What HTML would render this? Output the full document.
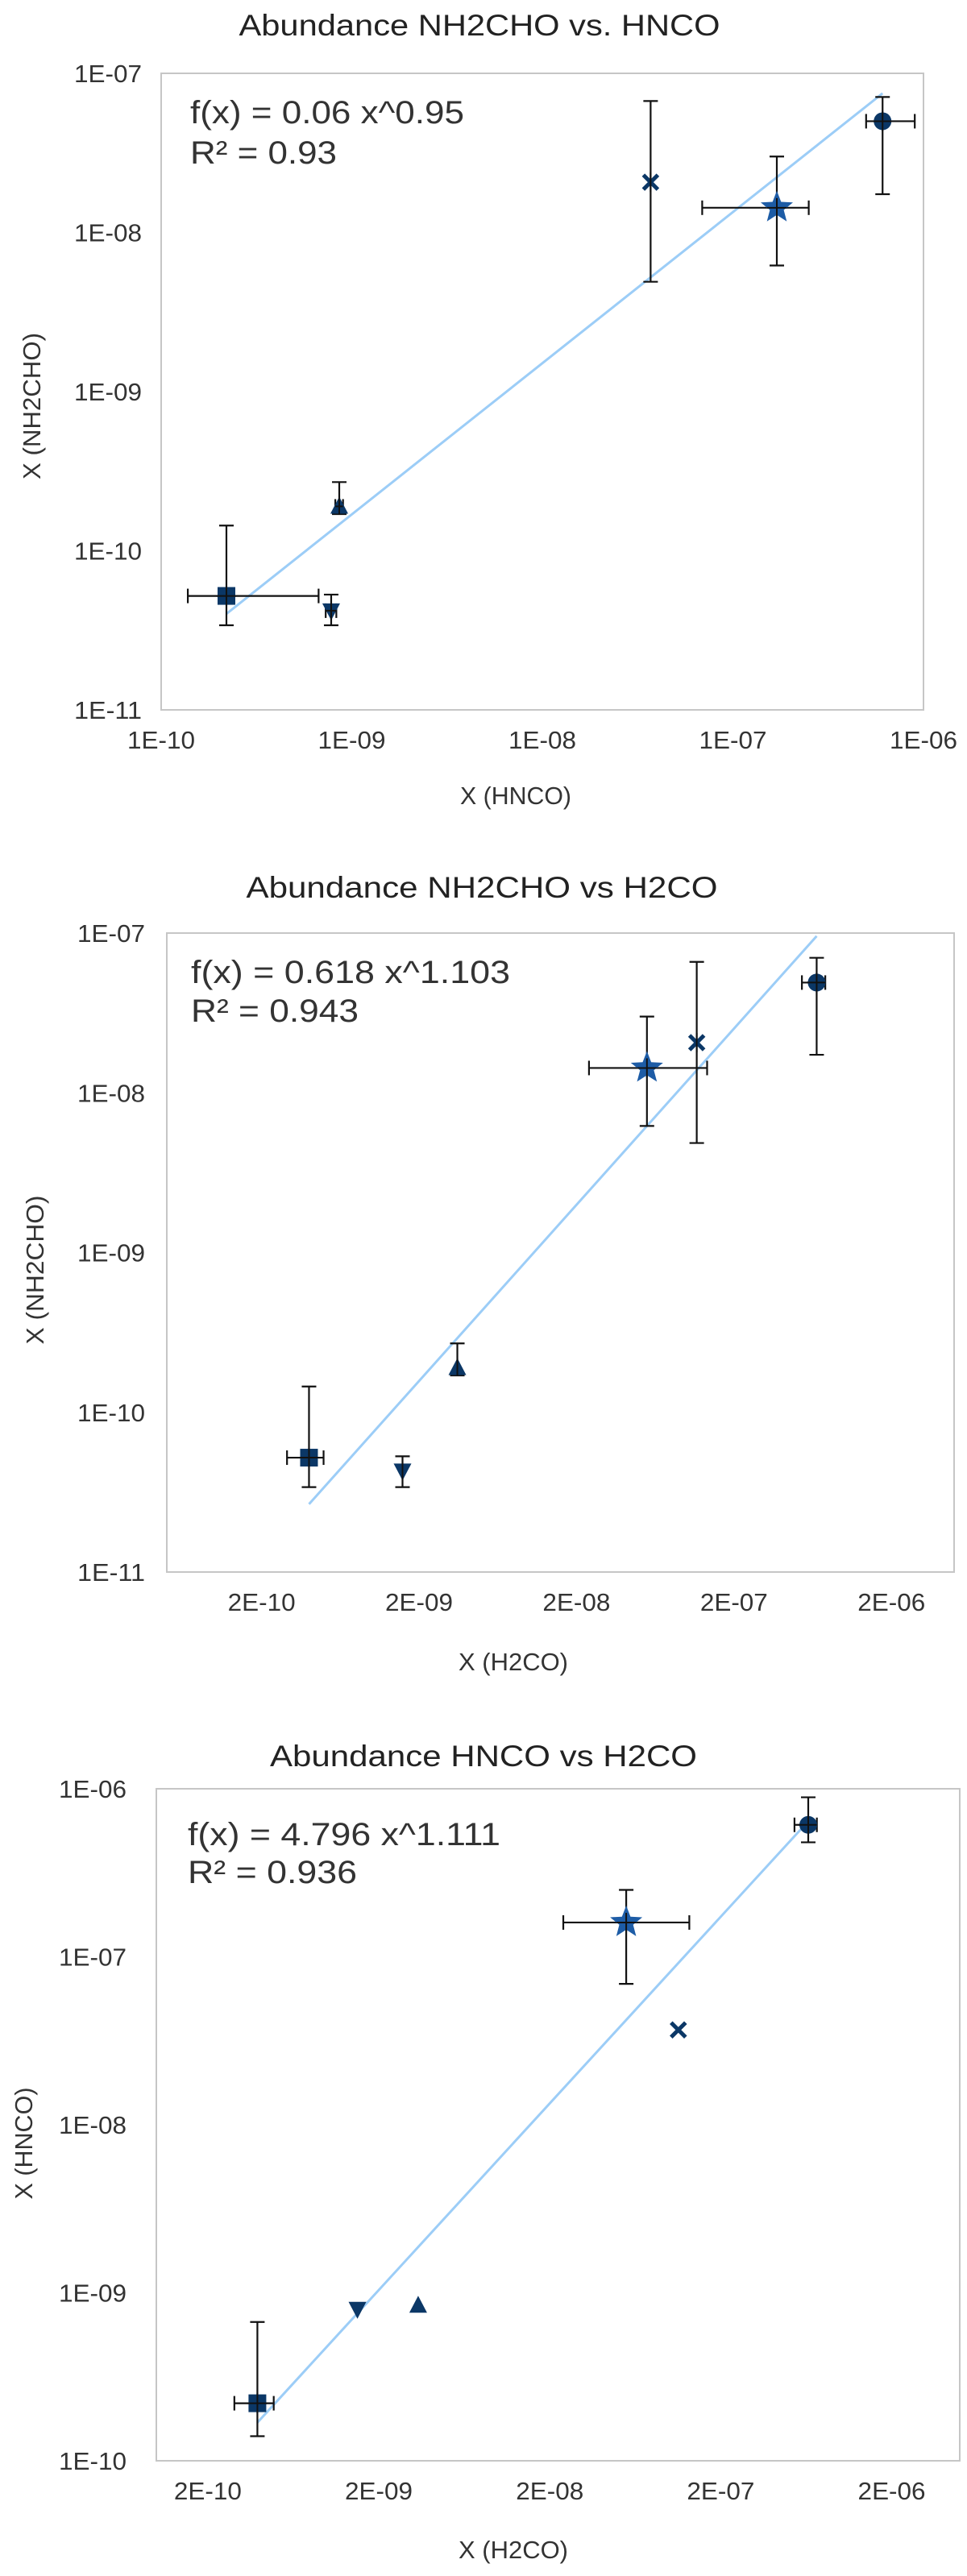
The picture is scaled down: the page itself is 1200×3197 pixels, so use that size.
<!DOCTYPE html>
<html><head><meta charset="utf-8"><style>
html,body{margin:0;padding:0;background:#fff;}
svg{display:block;font-family:"Liberation Sans",sans-serif;}
</style></head><body>
<svg id="root" width="1200" height="3197" viewBox="0 0 1200 3197" xmlns="http://www.w3.org/2000/svg">
<rect width="1200" height="3197" fill="#fff"/>
<g id="c1">
  <text x="595" y="44" font-size="37" text-anchor="middle" textLength="597" lengthAdjust="spacingAndGlyphs" fill="#222">Abundance NH2CHO vs. HNCO</text>
  <text x="640" y="998" font-size="31" text-anchor="middle" textLength="138" lengthAdjust="spacingAndGlyphs" fill="#333">X (HNCO)</text>
  <text transform="translate(50,504) rotate(-90)" font-size="31" text-anchor="middle" textLength="182" lengthAdjust="spacingAndGlyphs" fill="#333">X (NH2CHO)</text>
  <text x="236" y="153" font-size="40" textLength="340" lengthAdjust="spacingAndGlyphs" fill="#333">f(x) = 0.06 x^0.95</text>
  <text x="236" y="203" font-size="40" textLength="182" lengthAdjust="spacingAndGlyphs" fill="#333">R² = 0.93</text>
</g>
<g id="c2">
  <text x="598" y="1114" font-size="37" text-anchor="middle" textLength="585" lengthAdjust="spacingAndGlyphs" fill="#222">Abundance NH2CHO vs H2CO</text>
  <text x="637" y="2073" font-size="31" text-anchor="middle" textLength="136" lengthAdjust="spacingAndGlyphs" fill="#333">X (H2CO)</text>
  <text transform="translate(54,1576) rotate(-90)" font-size="31" text-anchor="middle" textLength="185" lengthAdjust="spacingAndGlyphs" fill="#333">X (NH2CHO)</text>
  <text x="237" y="1220" font-size="40" textLength="396" lengthAdjust="spacingAndGlyphs" fill="#333">f(x) = 0.618 x^1.103</text>
  <text x="237" y="1268" font-size="40" textLength="208" lengthAdjust="spacingAndGlyphs" fill="#333">R² = 0.943</text>
</g>
<g id="c3">
  <text x="600" y="2192" font-size="37" text-anchor="middle" textLength="530" lengthAdjust="spacingAndGlyphs" fill="#222">Abundance HNCO vs H2CO</text>
  <text x="637" y="3175" font-size="31" text-anchor="middle" textLength="136" lengthAdjust="spacingAndGlyphs" fill="#333">X (H2CO)</text>
  <text transform="translate(40,2660) rotate(-90)" font-size="31" text-anchor="middle" textLength="139" lengthAdjust="spacingAndGlyphs" fill="#333">X (HNCO)</text>
  <text x="233" y="2290" font-size="40" textLength="388" lengthAdjust="spacingAndGlyphs" fill="#333">f(x) = 4.796 x^1.111</text>
  <text x="233" y="2337" font-size="40" textLength="210" lengthAdjust="spacingAndGlyphs" fill="#333">R² = 0.936</text>
</g>
</svg>
<script>
// ---- data: marker order per source ----
const markers = ['square','down','up','x','star','circle'];

// Chart 1: NH2CHO vs HNCO
const c1X    = [2.2e-10, 7.8e-10, 8.6e-10, 3.7e-8, 1.7e-7, 6.1e-7];
const c1Y    = [5.2e-11, 4.2e-11, 1.9e-10, 2.07e-8, 1.43e-8, 5.0e-8];
const c1XLo  = [1.38e-10, 7.3e-10, 8.2e-10, null, 6.9e-8, 5.0e-7];
const c1XHi  = [6.7e-10, 8.3e-10, 9.0e-10, null, 2.5e-7, 9.0e-7];
const c1YLo  = [3.4e-11, 3.4e-11, 1.7e-10, 4.9e-9, 6.2e-9, 1.74e-8];
const c1YHi  = [1.44e-10, 5.3e-11, 2.7e-10, 6.7e-8, 3.0e-8, 7.1e-8];
const c1Fit  = [0.06, 0.95];
const c1XTicks = [1e-10, 1e-9, 1e-8, 1e-7, 1e-6];
const c1XTickLabels = ['1E-10','1E-09','1E-08','1E-07','1E-06'];
const c1YTicks = [1e-11, 1e-10, 1e-9, 1e-8, 1e-7];
const c1YTickLabels = ['1E-11','1E-10','1E-09','1E-08','1E-07'];
const c1XRange = [1e-10, 1e-6];
const c1YRange = [1e-11, 1e-7];

// Chart 2: NH2CHO vs H2CO
const c2X    = [4.0e-10, 1.57e-9, 3.5e-9, 1.16e-7, 5.6e-8, 6.7e-7];
const c2Y    = [5.2e-11, 4.3e-11, 1.9e-10, 2.06e-8, 1.43e-8, 4.9e-8];
const c2XLo  = [2.9e-10, null, null, null, 2.4e-8, 5.4e-7];
const c2XHi  = [4.95e-10, null, null, null, 1.35e-7, 7.6e-7];
const c2YLo  = [3.4e-11, 3.4e-11, 1.7e-10, 4.85e-9, 6.2e-9, 1.73e-8];
const c2YHi  = [1.45e-10, 5.3e-11, 2.7e-10, 6.6e-8, 3.0e-8, 7.0e-8];
const c2Fit  = [0.618, 1.103];
const c2XTicks = [2e-10, 2e-9, 2e-8, 2e-7, 2e-6];
const c2XTickLabels = ['2E-10','2E-09','2E-08','2E-07','2E-06'];
const c2YTicks = [1e-11, 1e-10, 1e-9, 1e-8, 1e-7];
const c2YTickLabels = ['1E-11','1E-10','1E-09','1E-08','1E-07'];
const c2XRange = [5e-11, 5e-6];
const c2YRange = [1e-11, 1e-7];

// Chart 3: HNCO vs H2CO
const c3X    = [3.9e-10, 1.5e-9, 3.4e-9, 1.13e-7, 5.6e-8, 6.5e-7];
const c3Y    = [2.2e-10, 8.0e-10, 8.4e-10, 3.67e-8, 1.6e-7, 6.1e-7];
const c3XLo  = [2.86e-10, null, null, null, 2.4e-8, 5.4e-7];
const c3XHi  = [4.86e-10, null, null, null, 1.31e-7, 7.3e-7];
const c3YLo  = [1.4e-10, null, null, null, 6.9e-8, 4.8e-7];
const c3YHi  = [6.7e-10, null, null, null, 2.5e-7, 8.9e-7];
const c3Fit  = [4.796, 1.111];
const c3XTicks = [2e-10, 2e-9, 2e-8, 2e-7, 2e-6];
const c3XTickLabels = ['2E-10','2E-09','2E-08','2E-07','2E-06'];
const c3YTicks = [1e-10, 1e-9, 1e-8, 1e-7, 1e-6];
const c3YTickLabels = ['1E-10','1E-09','1E-08','1E-07','1E-06'];
const c3XRange = [1e-10, 5e-6];
const c3YRange = [1e-10, 1e-6];

const NS = 'http://www.w3.org/2000/svg';
function mk(tag, attrs, parent){
  const e = document.createElementNS(NS, tag);
  for (const k in attrs) e.setAttribute(k, attrs[k]);
  parent.appendChild(e);
  return e;
}
const L10 = Math.log10;

function drawChart(g, box, xr, yr, X, Y, XLo, XHi, YLo, YHi, fit, xt, xtl, yt, ytl, yLabRight){
  const sx = v => box.l + (L10(v) - L10(xr[0])) / (L10(xr[1]) - L10(xr[0])) * (box.r - box.l);
  const sy = v => box.b - (L10(v) - L10(yr[0])) / (L10(yr[1]) - L10(yr[0])) * (box.b - box.t);
  const frame = mk('rect', {x: box.l, y: box.t, width: box.r - box.l, height: box.b - box.t, fill: 'none', stroke: '#c6c6c6', 'stroke-width': 2}, g);
  
  
  xt.forEach((v, i) => {
    const t = mk('text', {x: sx(v), y: box.b + 48, 'font-size': 31, 'text-anchor': 'middle', fill: '#333', textLength: 84, lengthAdjust: 'spacingAndGlyphs'}, g);
    t.textContent = xtl[i];
    
    
  });
  yt.forEach((v, i) => {
    const t = mk('text', {x: yLabRight, y: sy(v) + 11, 'font-size': 31, 'text-anchor': 'end', fill: '#333', textLength: 84, lengthAdjust: 'spacingAndGlyphs'}, g);
    t.textContent = ytl[i];
    
    
  });
  // trendline
  const xmin = Math.min(...X), xmax = Math.max(...X);
  const f = v => fit[0] * Math.pow(v, fit[1]);
  const tl = mk('line', {x1: sx(xmin), y1: sy(f(xmin)), x2: sx(xmax), y2: sy(f(xmax)), stroke: '#9ccdf7', 'stroke-width': 3}, g);
  
  
  X.forEach((xv, i) => {
    const cx = sx(xv), cy = sy(Y[i]);
    const eg = mk('g', {stroke: '#111', 'stroke-width': 2.2, fill: 'none'}, g);
    
    
    if (YLo[i] != null) {
      const y1 = sy(YHi[i]), y2 = sy(YLo[i]);
      mk('line', {x1: cx, y1: y1, x2: cx, y2: y2}, eg);
      mk('line', {x1: cx - 9, y1: y1, x2: cx + 9, y2: y1}, eg);
      mk('line', {x1: cx - 9, y1: y2, x2: cx + 9, y2: y2}, eg);
    }
    if (XLo[i] != null) {
      const x1 = sx(XLo[i]), x2 = sx(XHi[i]);
      mk('line', {x1: x1, y1: cy, x2: x2, y2: cy}, eg);
      mk('line', {x1: x1, y1: cy - 9, x2: x1, y2: cy + 9}, eg);
      mk('line', {x1: x2, y1: cy - 9, x2: x2, y2: cy + 9}, eg);
    }
    const m = markers[i];
    let el;
    const col = '#0b3766';
    if (m === 'square') el = mk('rect', {x: cx - 11, y: cy - 11, width: 22, height: 22, fill: col}, g);
    else if (m === 'circle') el = mk('circle', {cx: cx, cy: cy, r: 11, fill: col}, g);
    else if (m === 'up') el = mk('polygon', {points: `${cx},${cy-12} ${cx+11},${cy+9} ${cx-11},${cy+9}`, fill: col}, g);
    else if (m === 'down') el = mk('polygon', {points: `${cx-11},${cy-9} ${cx+11},${cy-9} ${cx},${cy+12}`, fill: col}, g);
    else if (m === 'x') el = mk('path', {d: `M${cx-9},${cy-9}L${cx+9},${cy+9}M${cx+9},${cy-9}L${cx-9},${cy+9}`, stroke: col, 'stroke-width': 5, fill: 'none'}, g);
    else {
      let p = [];
      for (let k = 0; k < 10; k++) {
        const a = -Math.PI / 2 + k * Math.PI / 5, r = k % 2 ? 9 : 21;
        p.push((cx + r * Math.cos(a)).toFixed(1) + ',' + (cy + r * Math.sin(a)).toFixed(1));
      }
      el = mk('polygon', {points: p.join(' '), fill: '#1d5ca6'}, g);
    }
    
    
    // crosshair through marker (error bar passes over)
    if (YLo[i] != null || XLo[i] != null) {
      const ov = mk('g', {stroke: '#111', 'stroke-width': 2, fill: 'none'}, g);
      
      
      if (YLo[i] != null) mk('line', {x1: cx, y1: Math.max(sy(YHi[i]), cy - 12), x2: cx, y2: Math.min(sy(YLo[i]), cy + 12)}, ov);
      if (XLo[i] != null) mk('line', {x1: Math.max(sx(XLo[i]), cx - 12), y1: cy, x2: Math.min(sx(XHi[i]), cx + 12), y2: cy}, ov);
    }
  });
}

drawChart(document.getElementById('c1'), {l: 200, r: 1146, t: 91, b: 881}, c1XRange, c1YRange,
  c1X, c1Y, c1XLo, c1XHi, c1YLo, c1YHi, c1Fit, c1XTicks, c1XTickLabels, c1YTicks, c1YTickLabels, 176);
drawChart(document.getElementById('c2'), {l: 207, r: 1184, t: 1158, b: 1951}, c2XRange, c2YRange,
  c2X, c2Y, c2XLo, c2XHi, c2YLo, c2YHi, c2Fit, c2XTicks, c2XTickLabels, c2YTicks, c2YTickLabels, 180);
drawChart(document.getElementById('c3'), {l: 194, r: 1191, t: 2220, b: 3054}, c3XRange, c3YRange,
  c3X, c3Y, c3XLo, c3XHi, c3YLo, c3YHi, c3Fit, c3XTicks, c3XTickLabels, c3YTicks, c3YTickLabels, 157);
</script>
</body></html>
